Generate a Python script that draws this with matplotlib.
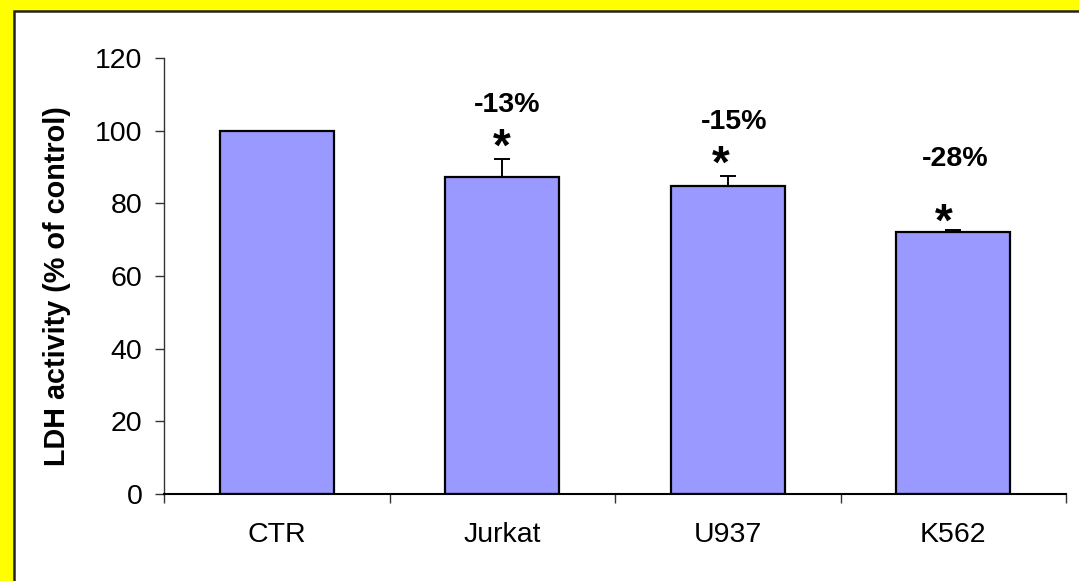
import matplotlib
matplotlib.use("Agg")
import matplotlib.pyplot as plt
from matplotlib.patches import Rectangle
from matplotlib.ticker import FixedLocator

categories = ["CTR", "Jurkat", "U937", "K562"]
values = [100, 87.3, 84.9, 72.0]
errors = [0, 5.0, 2.5, 0.7]
pct_labels = ["", "-13%", "-15%", "-28%"]
pct_y = [None, 107.1, 102.5, 92.3]
star_y = [None, 95.1, 90.4, 74.4]
star_dx = [0, 0.0, -0.03, -0.04]
pct_dx = [0, 0.02, 0.03, 0.01]

plt.rcParams['font.family'] = ['Liberation Sans', 'DejaVu Sans']

W, H = 1079, 581
fig = plt.figure(figsize=(W / 100, H / 100), dpi=100)
fig.patch.set_facecolor('#FFFF00')

# white panel with black border on top/left
panel = Rectangle((14 / W, -0.1), 1.2, (H - 11) / H + 0.1, transform=fig.transFigure,
                  facecolor='white', edgecolor='#222222', linewidth=1.8, zorder=-10)
fig.patches.append(panel)

ax = fig.add_axes([164 / W, 1 - 494 / H, (1066 - 164) / W, (494 - 58) / H])
ax.set_facecolor('none')
ax.set_zorder(5)

x = list(range(len(categories)))
ax.bar(x, values, width=0.505, color='#9999FF', edgecolor='black', linewidth=1.6, zorder=2)
ax.errorbar(x, values, yerr=[[0] * len(errors), errors], fmt='none', ecolor='black',
            elinewidth=1.4, capsize=6, capthick=1.4, zorder=3)

for i in range(1, len(categories)):
    ax.text(i + pct_dx[i], pct_y[i], pct_labels[i], ha='center', va='center',
            fontsize=20.5, fontweight='bold')
    ax.text(i + star_dx[i], star_y[i], '*', ha='center', va='center',
            fontsize=33, fontweight='bold')

ax.set_xlim(-0.5, 3.5)
ax.set_ylim(0, 120)
ax.set_yticks([0, 20, 40, 60, 80, 100, 120])
ax.set_xticks(x)
ax.set_xticklabels(categories)
ax.xaxis.set_minor_locator(FixedLocator([-0.5, 0.5, 1.5, 2.5, 3.5]))
ax.tick_params(axis='x', which='major', length=0, pad=20, labelsize=20.5)
ax.tick_params(axis='x', which='minor', length=6.5, width=1.0, direction='out', color='#333333')
ax.tick_params(axis='y', which='major', length=6.5, width=1.0, direction='out', pad=9, labelsize=20.5,
               color='#333333')

for s in ['top', 'right']:
    ax.spines[s].set_visible(False)
ax.spines['left'].set_linewidth(1.0)
ax.spines['left'].set_color('#333333')
ax.spines['bottom'].set_linewidth(1.5)
ax.spines['bottom'].set_bounds(-0.5, 3.5)

ax.set_ylabel('LDH activity (% of control)', fontsize=20.7, fontweight='bold', labelpad=17)
ax.yaxis.label.set_y(0.477)

fig.savefig('out.png', dpi=100, facecolor=fig.get_facecolor())
